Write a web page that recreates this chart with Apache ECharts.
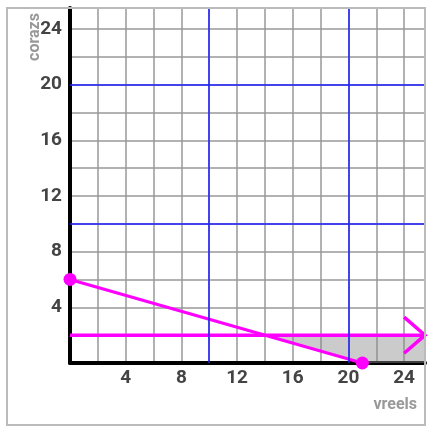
<!DOCTYPE html>
<html>
<head>
<meta charset="utf-8">
<script src="https://cdn.jsdelivr.net/npm/echarts@6/dist/echarts.min.js"></script>
<style>html,body{margin:0;padding:0;background:#fff;}#c{width:430px;height:432px;}</style>
</head>
<body>
<div id="c"></div>
<script>
// ---- data ----
const xName = 'vreels';
const yName = 'corazs';
const tickLabels = [4, 8, 12, 16, 20, 24];
const axisMax = 25.5;
const decliningLine = [[0, 6], [21, 0]];
const horizontalLine = [[0, 2], [25.5, 2]];
const arrowHead = [[24, 3.3], [25.5, 2], [24, 0.7]];
const shadedRegion = [[14, 2], [25.5, 2], [25.5, 0], [21, 0]];
const blueLinesX = [10, 20];
const blueLinesY = [10, 20];

const chart = echarts.init(document.getElementById('c'), null, {renderer: 'canvas'});
const MAG = '#ff00ff';
const labelFmt = v => (tickLabels.indexOf(v) >= 0 ? String(v) : '');
const axisCommon = {
  type: 'value', min: 0, max: axisMax, interval: 2,
  axisLine: {show: true, onZero: false, lineStyle: {color: '#000', width: 4}},
  axisTick: {show: false},
  splitLine: {show: true, lineStyle: {color: '#999', width: 1.5}},
  axisLabel: {formatter: labelFmt, color: '#444', fontSize: 19, fontWeight: 'bold', fontFamily: 'Roboto', showMinLabel: false, showMaxLabel: false}
};

chart.setOption({
  animation: false,
  grid: {left: 70, top: 8, right: 5, bottom: 69, containLabel: false},
  xAxis: Object.assign({}, axisCommon, {axisLabel: Object.assign({}, axisCommon.axisLabel, {margin: 6})}),
  yAxis: Object.assign({}, axisCommon, {axisLabel: Object.assign({}, axisCommon.axisLabel, {margin: 8})}),
  graphic: [
    {type: 'rect', shape: {x: 7, y: 8, width: 418, height: 417}, style: {fill: 'none', stroke: '#bbb', lineWidth: 2}, z: 100, silent: true},
    {type: 'text', x: 417, y: 405, style: {text: xName, fill: '#999', font: 'bold 16px Roboto', textAlign: 'right', textVerticalAlign: 'middle'}},
    {type: 'text', x: 35, y: 37, rotation: Math.PI / 2, style: {text: yName, fill: '#999', font: 'bold 16px Roboto', textAlign: 'center', textVerticalAlign: 'middle'}}
  ],
  series: [
    {
      type: 'custom', coordinateSystem: 'cartesian2d', clip: false, z: 1,
      data: [0],
      renderItem: function (params, api) {
        const pts = shadedRegion.map(p => api.coord(p));
        return {type: 'polygon', shape: {points: pts}, style: {fill: 'rgba(140,140,140,0.45)'}};
      }
    },
    {
      type: 'line', data: [], z: 2,
      markLine: {
        silent: true, symbol: 'none', label: {show: false},
        lineStyle: {color: '#1f1fff', width: 1.5, type: 'solid'},
        data: blueLinesX.map(v => ({xAxis: v})).concat(blueLinesY.map(v => ({yAxis: v})))
      }
    },
    {
      type: 'line', data: horizontalLine, showSymbol: false, symbol: 'none', clip: false, z: 3,
      lineStyle: {color: MAG, width: 3.5}
    },
    {
      type: 'line', data: arrowHead, showSymbol: false, symbol: 'none', clip: false, z: 3,
      lineStyle: {color: MAG, width: 3.5, join: 'miter'}
    },
    {
      type: 'line', data: decliningLine, symbol: 'circle', symbolSize: 13, showSymbol: true, clip: false, z: 4,
      itemStyle: {color: MAG}, lineStyle: {color: MAG, width: 3}
    }
  ]
});
</script>
</body>
</html>
